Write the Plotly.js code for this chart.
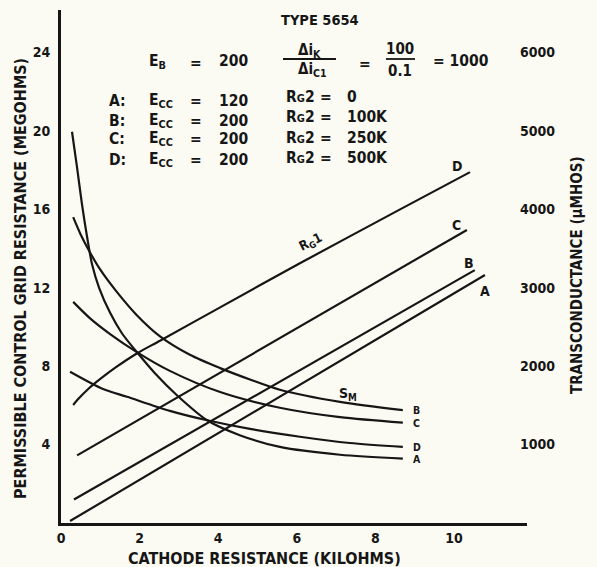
<!DOCTYPE html>
<html>
<head>
<meta charset="utf-8">
<script src="https://cdn.plot.ly/plotly-3.0.1.min.js"></script>
<style>
  html, body { margin: 0; padding: 0; background: #fcfbf3; }
  #chart { width: 597px; height: 567px; }
</style>
</head>
<body>
<div id="chart"></div>
<script>
// Type 5654 pentode: permissible control-grid resistance (Rg1, megohms, left scale)
// and transconductance (Sm, micromhos, right scale) versus cathode resistance (kilohms).

// Cathode resistance (kilohms) and Rg1 (megohms) for the four operating conditions
const rkRg1A = [0.23, 10.79];
const rg1A   = [0.10, 12.65];
const rkRg1B = [0.33, 10.53];
const rg1B   = [1.20, 12.90];
const rkRg1C = [0.41, 10.33];
const rg1C   = [3.45, 14.95];
const rkRg1D = [0.31, 0.45, 0.70, 1.00, 1.40, 1.93, 2.52, 4.05, 6.08, 8.63, 10.41];
const rg1D   = [6.02, 6.35, 6.85, 7.35, 7.95, 8.65, 9.30, 11.00, 13.25, 16.00, 17.90];

// Transconductance (micromhos) for the same conditions
const rkSmA = [0.28, 0.41, 0.53, 0.66, 0.79, 0.97, 1.25, 1.55, 1.93, 2.39, 2.95, 3.72, 4.55, 5.57, 7.10, 8.70];
const smA   = [4990, 4530, 4080, 3660, 3300, 3000, 2680, 2420, 2180, 1910, 1630, 1310, 1120, 970, 870, 820];
const rkSmB = [0.31, 0.50, 0.75, 1.00, 1.40, 1.93, 2.52, 3.28, 4.05, 4.81, 5.57, 7.10, 8.70];
const smB   = [3900, 3680, 3440, 3230, 2960, 2650, 2380, 2145, 1975, 1830, 1700, 1545, 1440];
const rkSmC = [0.31, 0.74, 1.25, 1.93, 2.77, 4.05, 5.57, 7.10, 8.70];
const smC   = [2820, 2610, 2410, 2180, 1940, 1670, 1470, 1350, 1280];
const rkSmD = [0.23, 1.07, 1.68, 2.77, 3.72, 4.81, 6.08, 7.35, 8.70];
const smD   = [1930, 1710, 1610, 1430, 1310, 1200, 1100, 1020, 970];

// Operating conditions
const curveNames = ['A', 'B', 'C', 'D'];
const eccValues  = ['120', '200', '200', '200'];
const rg2Values  = ['0', '100K', '250K', '500K'];

// Axis ticks
const xTicks  = [0, 2, 4, 6, 8, 10];
const yTicks  = [4, 8, 12, 16, 20, 24];
const y2Ticks = [1000, 2000, 3000, 4000, 5000, 6000];

// ---- drawing ----
const INK = '#161616';
const BG = '#fcfbf3';
const FAMILY = 'DejaVu Sans Condensed, DejaVu Sans, sans-serif';
const font = (size, weight) => ({ family: FAMILY, size: size, color: INK, weight: weight || 'bold' });

// plot frame in page pixels
const L = 61, R = 527, T = 10, B = 523;
const X_MAX = 11.86, Y_MAX = 26.17, SM_PER_MEG = 250;
const px = v => (v - L) / (R - L);   // page x -> paper x
const py = v => (B - v) / (B - T);   // page y -> paper y

const line = { color: INK, width: 2.2 };
const traces = [];
const rg1Sets = [[rkRg1A, rg1A], [rkRg1B, rg1B], [rkRg1C, rg1C], [rkRg1D, rg1D]];
const smSets  = [[rkSmA, smA], [rkSmB, smB], [rkSmC, smC], [rkSmD, smD]];

rg1Sets.forEach(([x, y], i) => traces.push({
  x: x, y: y, type: 'scatter', mode: 'lines', name: 'Rg1 ' + curveNames[i],
  line: Object.assign({ shape: 'spline', smoothing: 0.8 }, line), hoverinfo: 'skip'
}));
smSets.forEach(([x, y], i) => traces.push({
  x: x, y: y, yaxis: 'y2', type: 'scatter', mode: 'lines', name: 'Sm ' + curveNames[i],
  line: Object.assign({ shape: 'spline', smoothing: 0.8 }, line), hoverinfo: 'skip'
}));

const ann = [];
const last = a => a[a.length - 1];

// curve-end letters on the Rg1 lines
const rg1Shift = [[0, -16], [-6, 7], [-10, 5], [-13, 6]];
rg1Sets.forEach(([x, y], i) => ann.push({
  x: last(x), y: last(y), xref: 'x', yref: 'y', text: curveNames[i], showarrow: false,
  xanchor: 'center', yanchor: 'middle',
  xshift: rg1Shift[i][0], yshift: rg1Shift[i][1], font: font(14)
}));
// curve-end letters on the Sm curves
smSets.forEach(([x, y], i) => ann.push({
  x: last(x), y: last(y), xref: 'x', yref: 'y2', text: curveNames[i], showarrow: false,
  xanchor: 'center', yanchor: 'middle', xshift: 14, yshift: 0, font: font(10.5)
}));
// family labels
ann.push({ x: 6.36, y: 14.3, xref: 'x', yref: 'y', text: 'R<sub>G</sub>1', textangle: -26,
  xanchor: 'center', yanchor: 'middle', showarrow: false, font: font(13) });
ann.push({ x: 7.3, y: 1640, xref: 'x', yref: 'y2', text: 'S<sub>M</sub>',
  xanchor: 'center', yanchor: 'middle', showarrow: false, font: font(14) });

// header
const hdr = (text, x, y, size, anchor) => ann.push({
  x: px(x), y: py(y), xref: 'paper', yref: 'paper', text: text, showarrow: false,
  xanchor: anchor || 'left', yanchor: 'middle', font: font(size)
});
hdr('TYPE 5654', 320, 20, 14.5, 'center');
hdr('E<sub>B</sub>', 147, 62, 15.5);
hdr('=', 188, 63, 15.5);
hdr('200', 217, 61, 15.5);
hdr('Δi<sub>K</sub>', 309, 50, 15, 'center');
hdr('Δi<sub>C1</sub>', 312, 69, 15, 'center');
hdr('=', 357, 64, 15.5);
hdr('100', 400, 49, 15, 'center');
hdr('0.1', 400, 71, 15, 'center');
hdr('= 1000', 431, 61, 15.5);

const rowY  = [101, 121, 139, 160];
const rowY2 = [97, 117, 138, 158];
curveNames.forEach((c, i) => {
  hdr(c + ':', 107, rowY[i], 15.5);
  hdr('E<sub>CC</sub>', 147, rowY[i], 15.5);
  hdr('=', 188, rowY[i], 15.5);
  hdr(eccValues[i], 217, rowY[i], 15.5);
  hdr("R<span style='font-size:11px'>G</span>2", 284, rowY2[i], 15.5);
  hdr('=', 318, rowY2[i], 15.5);
  hdr(rg2Values[i], 345, rowY2[i], 15.5);
});

// axis titles
const title = (text, x, y, angle, size) => ann.push({
  x: px(x), y: py(y), xref: 'paper', yref: 'paper', textangle: angle, showarrow: false,
  xanchor: 'center', yanchor: 'middle', text: text, font: font(size)
});
title('PERMISSIBLE CONTROL GRID RESISTANCE (MEGOHMS)', 20, 279, -90, 16);
title('TRANSCONDUCTANCE (μMHOS)', 577, 275, -90, 15);
title('CATHODE RESISTANCE (KILOHMS)', 264, 558, 0, 16);

// fraction bars
const bar = (x0, x1, y) => ({ type: 'line', xref: 'paper', yref: 'paper',
  x0: px(x0), x1: px(x1), y0: py(y), y1: py(y), line: { color: INK, width: 1.8 } });

const axisBase = {
  showgrid: false, zeroline: false, ticks: '', fixedrange: true,
  tickfont: font(14)
};

const layout = {
  width: 597, height: 567,
  paper_bgcolor: BG, plot_bgcolor: BG,
  margin: { l: L, r: 597 - R, t: T, b: 567 - B, pad: 0 },
  showlegend: false,
  xaxis: Object.assign({}, axisBase, {
    range: [0, X_MAX], tickvals: xTicks, showline: true, linewidth: 3, linecolor: INK,
    ticklabelstandoff: 0
  }),
  yaxis: Object.assign({}, axisBase, {
    range: [0, Y_MAX], tickvals: yTicks, showline: true, linewidth: 3, linecolor: INK,
    ticklabelstandoff: 5
  }),
  yaxis2: Object.assign({}, axisBase, {
    overlaying: 'y', side: 'right', range: [0, Y_MAX * SM_PER_MEG], tickvals: y2Ticks,
    showline: false, ticklabelstandoff: -8
  }),
  annotations: ann,
  shapes: [bar(283, 336, 59), bar(386, 415, 59)]
};

Plotly.newPlot('chart', traces, layout, { staticPlot: true, displayModeBar: false });
</script>
</body>
</html>
